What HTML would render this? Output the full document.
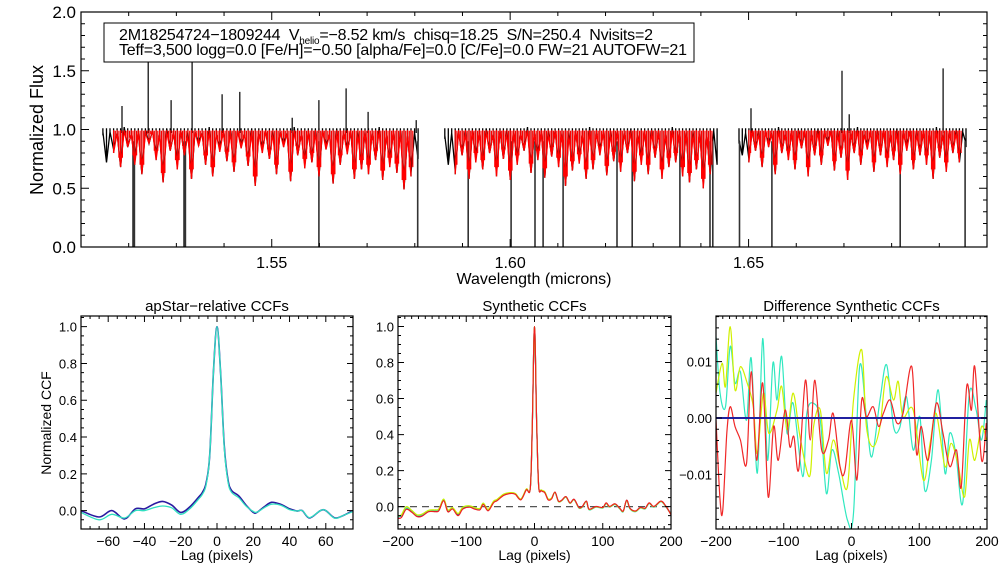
<!DOCTYPE html>
<html><head><meta charset="utf-8"><style>
html,body{margin:0;padding:0;background:#fff;}
svg{display:block;font-family:"Liberation Sans",Arial,sans-serif;}
text{white-space:pre;}
</style></head><body>
<svg id="chart" width="1008" height="576" viewBox="0 0 1008 576" xmlns="http://www.w3.org/2000/svg"></svg>
<script>
// ---------- spectrum data ----------
const chunkStart=[1.5146,1.5863,1.6480];
const chunkEnd=[1.5807,1.6434,1.6956];
const flux1=[0.95,0.72,0.98,0.80,0.97,0.68,0.99,0.85,0.96,0.70,0.98,0.62,0.97,0.88,0.99,0.74,0.96,0.55,0.98,0.82,0.97,0.66,0.99,0.78,0.95,0.58,0.98,0.86,0.97,0.70,0.99,0.60,0.96,0.81,0.98,0.73,0.97,0.64,0.99,0.84,0.96,0.69,0.98,0.52,0.97,0.80,0.99,0.75,0.96,0.62,0.98,0.85,0.97,0.56,0.99,0.78,0.96,0.67,0.98,0.72,0.97,0.60,0.99,0.83,0.96,0.54,0.98,0.70,0.97,0.79,0.99,0.58,0.96,0.66,0.98,0.62,0.97,0.74,0.99,0.57,0.96,0.68,0.98,0.63,0.97,0.49,0.95,0.60,0.97,0.75];
const flux2=[0.92,0.70,0.97,0.62,0.98,0.78,0.96,0.58,0.99,0.72,0.97,0.66,0.98,0.80,0.96,0.60,0.99,0.75,0.97,0.57,0.98,0.70,0.96,0.82,0.99,0.63,0.97,0.74,0.98,0.59,0.96,0.77,0.99,0.68,0.97,0.52,0.95,0.65,0.98,0.71,0.96,0.58,0.99,0.66,0.97,0.78,0.98,0.61,0.96,0.73,0.99,0.64,0.97,0.80,0.98,0.56,0.96,0.70,0.99,0.62,0.97,0.76,0.98,0.58,0.96,0.68,0.99,0.72,0.97,0.60,0.98,0.55,0.96,0.66,0.97,0.50,0.95,0.62,0.96,0.70];
const flux3=[0.88,0.78,0.97,0.72,0.99,0.82,0.96,0.68,0.98,0.85,0.97,0.62,0.99,0.80,0.96,0.74,0.98,0.66,0.97,0.84,0.99,0.60,0.96,0.78,0.98,0.70,0.97,0.86,0.99,0.65,0.96,0.76,0.98,0.57,0.97,0.80,0.99,0.70,0.96,0.83,0.98,0.64,0.97,0.78,0.99,0.68,0.96,0.74,0.98,0.62,0.97,0.82,0.99,0.66,0.96,0.78,0.98,0.70,0.97,0.58,0.99,0.76,0.96,0.64,0.98,0.80,0.97,0.72,0.98,0.85];
const spikeWave=[1.5186,1.5241,1.5289,1.5333,1.5396,1.5433,1.5543,1.5599,1.5656,1.5702,1.5803,1.6505,1.6696,1.6711,1.6908];
const spikeFlux=[1.20,1.62,1.25,1.62,1.30,1.32,1.10,1.25,1.35,1.15,1.08,1.18,1.50,1.13,1.52];
const dropWave=[1.5209,1.5212,1.5316,1.5319,1.5599,1.5806,1.5912,1.6002,1.6052,1.6069,1.6111,1.6224,1.6256,1.6356,1.6419,1.6425,1.6481,1.6549,1.6818,1.6954];
// ---------- apStar-relative CCFs ----------
const relLags=[-75,-65,-58,-51,-45,-40,-35,-30,-25,-20,-15,-10,-8,-6,-4,-2,0,2,4,6,8,12,16,20,22,26,30,35,40,44,47,51,57,60,65,70,75];
const relBlue=[0.0,-0.035,0.0,-0.045,0.01,0.01,0.035,0.05,0.03,-0.01,0.02,0.075,0.1,0.15,0.3,0.75,1.0,0.75,0.35,0.17,0.11,0.08,0.03,-0.01,-0.01,0.02,0.045,0.035,0.01,-0.002,0.0,-0.04,0.0,0.0,-0.04,-0.025,0.0];
const relCyan=[-0.01,-0.05,-0.02,-0.04,0.0,0.0,0.015,0.025,0.015,-0.02,0.01,0.065,0.09,0.14,0.3,0.75,1.0,0.75,0.34,0.16,0.1,0.07,0.025,-0.005,-0.008,0.015,0.035,0.03,0.005,-0.002,0.0,-0.038,0.0,0.0,-0.042,-0.025,-0.005];
// ---------- Synthetic CCFs ----------
const synLags=[-200,-195,-188,-180,-172,-165,-155,-145,-140,-133,-127,-120,-112,-105,-95,-88,-80,-75,-68,-60,-55,-45,-35,-28,-20,-12,-6,-3,0,3,6,10,15,20,25,30,35,40,46,52,58,65,70,76,80,90,100,105,110,118,125,130,135,140,148,155,162,168,175,185,192,200];
const synBlue=[-0.057,-0.05,-0.01,-0.025,-0.05,-0.048,-0.025,-0.025,-0.02,0.035,-0.025,-0.01,-0.045,-0.01,0.0,-0.01,-0.015,0.015,-0.02,0.025,0.035,0.065,0.075,0.07,0.04,0.095,0.11,0.5,1.0,0.5,0.12,0.09,0.08,0.04,0.045,0.08,0.03,0.035,0.055,0.02,0.04,-0.005,0.0,0.03,-0.015,0.0,-0.005,0.02,0.0,0.015,-0.01,-0.025,0.035,-0.01,-0.025,-0.005,-0.01,0.02,0.0,0.03,0.005,-0.04];
const synCyan=[-0.055,-0.048,-0.008,-0.022,-0.048,-0.045,-0.022,-0.02,-0.015,0.04,-0.02,-0.008,-0.04,-0.005,0.003,-0.008,-0.012,0.018,-0.018,0.028,0.038,0.068,0.077,0.072,0.042,0.097,0.11,0.5,1.0,0.5,0.12,0.092,0.082,0.042,0.047,0.078,0.028,0.033,0.052,0.018,0.038,-0.008,-0.003,0.027,-0.018,-0.003,-0.008,0.017,-0.003,0.012,-0.013,-0.028,0.032,-0.013,-0.028,-0.008,-0.013,0.017,-0.003,0.027,0.002,-0.043];
const synYellow=[-0.05,-0.045,0.0,-0.02,-0.045,-0.042,-0.02,-0.018,-0.012,0.042,-0.018,-0.005,-0.038,-0.003,0.005,-0.005,-0.01,0.02,-0.015,0.03,0.04,0.07,0.078,0.073,0.043,0.098,0.11,0.5,1.0,0.5,0.12,0.093,0.083,0.043,0.048,0.079,0.029,0.034,0.054,0.019,0.039,-0.006,-0.001,0.029,-0.016,-0.001,-0.006,0.019,-0.001,0.014,-0.011,-0.026,0.034,-0.011,-0.026,-0.006,-0.011,0.019,-0.001,0.029,0.004,-0.042];
const synRed=[-0.065,-0.06,-0.015,-0.03,-0.055,-0.053,-0.028,-0.028,-0.022,0.033,-0.028,-0.013,-0.05,-0.013,-0.003,-0.013,-0.018,0.012,-0.023,0.022,0.033,0.063,0.073,0.068,0.038,0.093,0.11,0.5,1.0,0.5,0.12,0.088,0.078,0.038,0.043,0.081,0.031,0.036,0.056,0.021,0.041,-0.004,0.001,0.031,-0.014,0.001,-0.004,0.021,0.001,0.016,-0.009,-0.024,0.036,-0.009,-0.024,-0.004,-0.009,0.021,0.001,0.031,0.006,-0.045];
// ---------- Difference Synthetic CCFs (units of 0.001) ----------
const diffCyanLags=[-200,-194,-186,-179,-172,-164,-155,-148,-139,-131,-124,-116,-110,-103,-95,-86,-72,-66,-56,-46,-37,-29,-19,-6,3,12,22,30,42,52,62,71,81,91,101,108,118,128,138,145,154,164,174,184,192,199];
const diffCyanVals=[14.4,4.4,2.0,12.7,6.2,8.2,-0.4,10.6,-9.8,14.1,-7.5,9.7,3.2,10.9,-2.7,2.6,-10.4,0.8,2.6,-0.4,-13.4,-5.7,-9.8,-18.1,-16.9,9.1,0.2,-6.9,3.2,9.4,-1.5,-1.8,3.8,-5.7,0.2,-12.8,-7.5,5.0,-9.8,-2.7,-6.3,-15.2,4.4,1.4,-3.9,3.2];
const diffYellowLags=[-200,-191,-186,-179,-172,-164,-154,-145,-139,-130,-122,-110,-103,-95,-86,-76,-62,-56,-46,-37,-27,-17,-6,3,15,22,32,42,51,62,69,76,91,106,116,125,138,147,157,167,174,182,192,199];
const diffYellowVals=[4.4,9.7,5.6,16.2,5.0,9.1,6.2,2.0,-6.3,4.4,-2.7,1.4,5.6,-2.1,4.4,-3.3,-10.4,-1.5,1.4,-9.8,-3.9,-8.6,-12.2,3.2,12.1,-1.5,-5.1,-1.5,7.3,3.2,6.5,0.2,1.4,-11.0,-4.5,0.8,-8.6,-4.5,-8.1,-14.0,-3.9,-7.5,-1.5,-3.9];
const diffRedLags=[-200,-194,-190,-184,-179,-172,-164,-155,-148,-140,-131,-123,-115,-108,-98,-91,-85,-78,-68,-61,-54,-44,-34,-27,-17,-10,0,8,15,22,32,40,47,57,67,76,89,96,103,113,125,135,145,155,162,170,177,182,192,199];
const diffRedVals=[-0.4,-14.6,-16.3,-2.7,2.0,-1.5,-3.9,-8.1,8.2,-7.5,6.2,-14.0,-1.5,-7.5,1.4,-5.1,-3.3,-9.2,6.7,-3.9,6.7,-5.7,-3.9,0.8,-8.6,-9.5,-0.4,-11.0,3.2,0.2,2.0,-1.5,0.8,3.2,-0.9,0.8,9.1,-6.3,-1.5,-7.5,2.6,-2.7,-8.6,-5.7,-12.2,5.6,1.4,9.1,-7.5,-0.9];
const diffBlueLags=[-200,200];
const diffBlueVals=[0,0];

const NS="http://www.w3.org/2000/svg";
const svg=document.getElementById('chart');
function mk(tag,attrs,parent){const e=document.createElementNS(NS,tag);for(const k in attrs)e.setAttribute(k,attrs[k]);(parent||svg).appendChild(e);return e;}
function txt(s,x,y,size,anchor,parent,rot){const e=mk('text',{x:x,y:y,'font-size':size,'text-anchor':anchor||'middle',fill:'#000'},parent);if(rot)e.setAttribute('transform','rotate(-90 '+x+' '+y+')');e.textContent=s;return e;}
function scale(d0,d1,p0,p1){return v=>p0+(v-d0)*(p1-p0)/(d1-d0);}
function smoothPath(xs,ys){let d='M'+xs[0].toFixed(1)+','+ys[0].toFixed(1);for(let i=0;i<xs.length-1;i++){const x0=xs[Math.max(i-1,0)],y0=ys[Math.max(i-1,0)],x1=xs[i],y1=ys[i],x2=xs[i+1],y2=ys[i+1],x3=xs[Math.min(i+2,xs.length-1)],y3=ys[Math.min(i+2,xs.length-1)];d+='C'+(x1+(x2-x0)/6).toFixed(1)+','+(y1+(y2-y0)/6).toFixed(1)+' '+(x2-(x3-x1)/6).toFixed(1)+','+(y2-(y3-y1)/6).toFixed(1)+' '+x2.toFixed(1)+','+y2.toFixed(1);}return d;}
function ticks(g,L,R,T,B,sx,sy,xMaj,xMin,yMaj,yMin,xr,yr,ml,mn){
  const p=[];const eps=1e-9;
  for(let v=Math.ceil(xr[0]/xMin-eps)*xMin;v<=xr[1]+eps;v+=xMin){const x=sx(v);const maj=Math.abs(v/xMaj-Math.round(v/xMaj))<1e-6;const l=maj?ml:mn;p.push('M'+x+','+B+'v'+(-l)+'M'+x+','+T+'v'+l);}
  for(let v=Math.ceil(yr[0]/yMin-eps)*yMin;v<=yr[1]+eps;v+=yMin){const y=sy(v);const maj=Math.abs(v/yMaj-Math.round(v/yMaj))<1e-6;const l=maj?ml:mn;p.push('M'+L+','+y+'h'+l+'M'+R+','+y+'h'+(-l));}
  mk('path',{d:p.join(''),stroke:'#000','stroke-width':1,fill:'none'},g);
}

// ========== TOP PANEL ==========
(function(){
  const L=81,R=987,T=12,B=247;
  const sx=scale(1.51,1.70,L,R), sy=scale(0,2,B,T);
  const g=mk('g',{});
  
  
  const clip=mk('clipPath',{id:'cTop'},g);mk('rect',{x:L,y:T,width:R-L,height:B-T},clip);
  const data=mk('g',{'clip-path':'url(#cTop)'},g);
  const fluxes=[flux1,flux2,flux3];
  fluxes.forEach((f,c)=>{
    const xs=f.map((v,i)=>sx(chunkStart[c]+(chunkEnd[c]-chunkStart[c])*i/(f.length-1)));
    let d='';f.forEach((v,i)=>{d+=(i?'L':'M')+xs[i].toFixed(1)+','+sy(v+0.03*(i%3===0?1:0)).toFixed(1);});
    f.forEach((v,i)=>{d+='M'+xs[i].toFixed(1)+','+sy(1.01).toFixed(1)+'V'+sy(v).toFixed(1);});
    const p=mk('path',{d:d,stroke:'#000',fill:'none','stroke-width':1.3},data);
    
    
  });
  let sd='';spikeWave.forEach((w,i)=>{sd+='M'+sx(w).toFixed(1)+','+sy(0.97).toFixed(1)+'V'+sy(spikeFlux[i]).toFixed(1);});
  const sp=mk('path',{d:sd,stroke:'#000',fill:'none','stroke-width':1.2},data);
  
  
  let dd='';dropWave.forEach(w=>{dd+='M'+sx(w).toFixed(1)+','+sy(0.9).toFixed(1)+'V'+sy(0).toFixed(1);});
  const dp=mk('path',{d:dd,stroke:'#333',fill:'none','stroke-width':1.6},data);
  
  
  fluxes.forEach((f,c)=>{
    const xs=f.map((v,i)=>sx(chunkStart[c]+(chunkEnd[c]-chunkStart[c])*i/(f.length-1)));
    let d='';for(let i=3;i<f.length-2;i++){d+=(i>3?'L':'M')+xs[i].toFixed(1)+','+sy(f[i]).toFixed(1);}
    for(let i=3;i<f.length-2;i++){d+='M'+xs[i].toFixed(1)+','+sy(0.995).toFixed(1)+'V'+sy(f[i]).toFixed(1);
      const xm=(xs[i]+xs[i+1])/2;d+='M'+xm.toFixed(1)+','+sy(0.99).toFixed(1)+'V'+sy(Math.min(f[i],f[i+1])+0.08).toFixed(1);}
    const p=mk('path',{d:d,stroke:'#f00',fill:'none','stroke-width':1.2},data);
    
    
  });
  mk('rect',{x:L,y:T,width:R-L,height:B-T,fill:'none',stroke:'#000','stroke-width':1.2},g);
  ticks(g,L,R,T,B,sx,sy,0.05,0.01,0.5,0.1,[1.51,1.70],[0,2],8,4);
  [1.55,1.60,1.65].forEach(v=>{const t=txt(v.toFixed(2),sx(v),268,16,'middle',g);});
  [0,0.5,1,1.5,2].forEach(v=>{const t=txt(v.toFixed(1),76,sy(v)+6,17,'end',g);});
  const xt=txt('Wavelength (microns)',534,284,16,'middle',g);
  const yt=txt('Normalized Flux',43,130,18,'middle',g,true);
  const box=mk('g',{},g);
  
  
  mk('rect',{x:104,y:23,width:590,height:39,fill:'#fff',stroke:'#000','stroke-width':1},box);
  const t1=mk('text',{x:119,y:40,'font-size':16,fill:'#000',textLength:534,lengthAdjust:'spacing'},box);
  t1.innerHTML='2M18254724\u22121809244  V<tspan font-size="10" dy="4">helio</tspan><tspan dy="-4">=\u22128.52 km/s  chisq=18.25  S/N=250.4  Nvisits=2</tspan>';
  
  
  const t2=txt('Teff=3,500 logg=0.0 [Fe/H]=\u22120.50 [alpha/Fe]=0.0 [C/Fe]=0.0 FW=21 AUTOFW=21',119,55,16,'start',box);
  t2.setAttribute('textLength',568);
  t2.setAttribute('lengthAdjust','spacing');
  
  
})();

// ========== BOTTOM PANELS ==========
function ccfPanel(opt){
  const {L,R,T,B,xr,yr,name,title}=opt;
  const sx=scale(xr[0],xr[1],L,R), sy=scale(yr[0],yr[1],B,T);
  const g=mk('g',{});
  
  
  const cid='c'+name;const clip=mk('clipPath',{id:cid},g);mk('rect',{x:L,y:T,width:R-L,height:B-T},clip);
  const data=mk('g',{'clip-path':'url(#'+cid+')'},g);
  if(opt.dash){const dl=mk('line',{x1:L,x2:R,y1:sy(0),y2:sy(0),stroke:'#555','stroke-width':1.2,'stroke-dasharray':'7,5'},data);}
  opt.series.forEach(s=>{
    const xs=s.lags.map(sx), ys=s.vals.map(v=>sy(v*(s.mult||1)));
    const p=mk('path',{d:smoothPath(xs,ys),stroke:s.color,fill:'none','stroke-width':s.w||1.2},data);
    
    
  });
  mk('rect',{x:L,y:T,width:R-L,height:B-T,fill:'none',stroke:'#000','stroke-width':1.2},g);
  ticks(g,L,R,T,B,sx,sy,opt.xMaj,opt.xMin,opt.yMaj,opt.yMin,xr,yr,6,3);
  opt.xLabels.forEach(v=>{const t=txt(String(v).replace('-','\u2212'),sx(v),546,14,'middle',g);});
  opt.yLabels.forEach(v=>{const t=txt((v<0?'\u2212':'')+Math.abs(v).toFixed(opt.yDec),L-4,sy(v)+5,13,'end',g);});
  const tt=txt(title,(L+R)/2,311,15,'middle',g);
  const xt=txt('Lag (pixels)',(L+R)/2,560,14,'middle',g);
  return g;
}
const g1=ccfPanel({name:'apstar-ccf-panel',title:'apStar\u2212relative CCFs',L:81,R:353,T:316,B:529,xr:[-75,75],yr:[-0.1,1.058],xMaj:20,xMin:5,yMaj:0.2,yMin:0.05,
  xLabels:[-60,-40,-20,0,20,40,60],yLabels:[0,0.2,0.4,0.6,0.8,1.0],yDec:1,
  series:[{name:'ccf-visit-1',lags:relLags,vals:relBlue,color:'#2a1aa0',w:1.6},{name:'ccf-visit-2',lags:relLags,vals:relCyan,color:'#30e0c0',w:1.3}]});
const yct=txt('Normalized CCF',51,423,14,'middle',g1,true);


ccfPanel({name:'synthetic-ccf-panel',title:'Synthetic CCFs',L:398,R:671,T:316,B:529,xr:[-200,200],yr:[-0.124,1.058],xMaj:100,xMin:10,yMaj:0.2,yMin:0.05,dash:true,
  xLabels:[-200,-100,0,100,200],yLabels:[0,0.2,0.4,0.6,0.8,1.0],yDec:1,
  series:[{name:'synthetic-ccf-blue',lags:synLags,vals:synBlue,color:'#2a1aa0'},{name:'synthetic-ccf-cyan',lags:synLags,vals:synCyan,color:'#30e0c0'},{name:'synthetic-ccf-yellow',lags:synLags,vals:synYellow,color:'#c8f000'},{name:'synthetic-ccf-red',lags:synLags,vals:synRed,color:'#f02020'}]});
ccfPanel({name:'difference-ccf-panel',title:'Difference Synthetic CCFs',L:716,R:987,T:316,B:529,xr:[-200,200],yr:[-0.0197,0.0181],xMaj:100,xMin:10,yMaj:0.01,yMin:0.002,
  xLabels:[-200,-100,0,100,200],yLabels:[-0.01,0,0.01],yDec:2,
  series:[{name:'difference-ccf-cyan',lags:diffCyanLags,vals:diffCyanVals,mult:0.001,color:'#30e8c0'},{name:'difference-ccf-yellow',lags:diffYellowLags,vals:diffYellowVals,mult:0.001,color:'#d0f000'},{name:'difference-ccf-red',lags:diffRedLags,vals:diffRedVals,mult:0.001,color:'#f02828'},{name:'difference-ccf-blue',lags:diffBlueLags,vals:diffBlueVals,mult:0.001,color:'#2020a0',w:2}]});
</script>
</body></html>
